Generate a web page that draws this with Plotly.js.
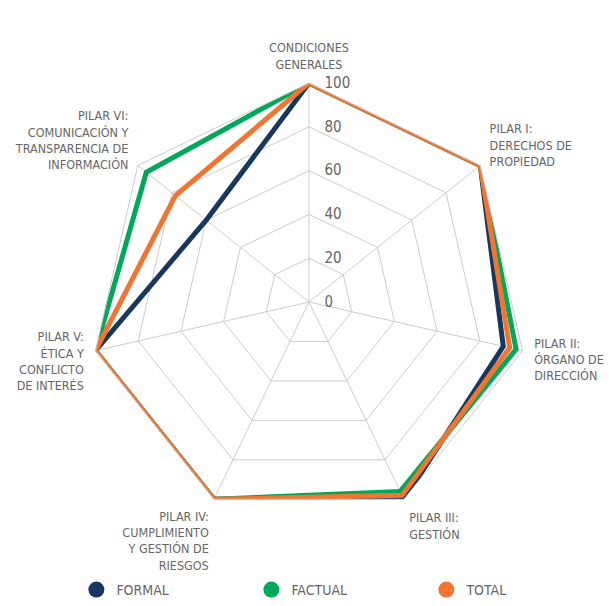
<!DOCTYPE html>
<html>
<head>
<meta charset="utf-8">
<script src="https://cdn.plot.ly/plotly-3.0.1.min.js"></script>
<style>html,body{margin:0;padding:0;background:#fff;}#chart{width:611px;height:606px;}</style>
</head>
<body>
<div id="chart"></div>
<script>
const categories = [
  "CONDICIONES<br>GENERALES",
  "PILAR I:<br>DERECHOS DE<br>PROPIEDAD",
  "PILAR II:<br>ÓRGANO DE<br>DIRECCIÓN",
  "PILAR III:<br>GESTIÓN",
  "PILAR IV:<br>CUMPLIMIENTO<br>Y GESTIÓN DE<br>RIESGOS",
  "PILAR V:<br>ÉTICA Y<br>CONFLICTO<br>DE INTERÉS",
  "PILAR VI:<br>COMUNICACIÓN Y<br>TRANSPARENCIA DE<br>INFORMACIÓN"
];
const formal  = [100, 100, 91, 100, 100, 100, 60];
const factual = [100, 100, 97, 96, 100, 100, 95];
const total   = [100, 100, 94, 98, 100, 100, 78];
const seriesNames = ["FORMAL", "FACTUAL", "TOTAL"];
const colors = ["#163760", "#00A85A", "#F37430"];
const radialTicks = [0, 20, 40, 60, 80, 100];

const FONT = "'DejaVu Sans Condensed', 'Liberation Sans Narrow', 'Roboto', sans-serif";
const seriesData = [formal, factual, total];
const traces = [];
seriesData.forEach((vals, i) => {
  traces.push({
    type: "scatterpolar",
    r: vals.concat([vals[0]]),
    theta: categories.concat([categories[0]]),
    mode: "lines",
    name: seriesNames[i],
    line: {color: colors[i], width: 5},
    showlegend: false,
    hoverinfo: "skip"
  });
});
seriesNames.forEach((n, i) => {
  traces.push({
    type: "scatterpolar",
    r: [null],
    theta: [categories[0]],
    mode: "markers",
    name: n,
    marker: {color: colors[i], size: 28, symbol: "circle"},
    showlegend: true
  });
});

const cx = 309, cy = 302, R = 219, W = 611, H = 606;
const layout = {
  width: W, height: H,
  margin: {l: 0, r: 0, t: 0, b: 0},
  paper_bgcolor: "#fff",
  font: {family: FONT, size: 12.5, color: "#666"},
  showlegend: true,
  legend: {
    orientation: "h",
    x: 0.125, xanchor: "left",
    y: 0.0, yanchor: "bottom",
    entrywidth: 130, entrywidthmode: "pixels",
    font: {family: FONT, size: 14, color: "#666"},
    itemsizing: "trace"
  },
  polar: {
    domain: {x: [(cx - R) / W, (cx + R) / W], y: [(H - cy - R) / H, (H - cy + R) / H]},
    gridshape: "linear",
    bgcolor: "#fff",
    angularaxis: {
      rotation: 90,
      direction: "clockwise",
      type: "category",
      categoryorder: "array",
      categoryarray: categories,
      showline: true,
      linecolor: "#cccccc",
      linewidth: 1,
      gridcolor: "#cccccc",
      gridwidth: 1,
      ticks: "outside",
      ticklen: 9,
      tickcolor: "rgba(0,0,0,0)",
      tickfont: {family: FONT, size: 12.5, color: "#666"}
    },
    radialaxis: {
      range: [0, 100],
      tickvals: radialTicks,
      ticktext: radialTicks.map(String),
      angle: 90,
      tickangle: 90,
      side: "clockwise",
      showline: false,
      gridcolor: "#cccccc",
      gridwidth: 1,
      ticks: "outside",
      ticklen: 12,
      tickcolor: "rgba(0,0,0,0)",
      tickfont: {family: FONT, size: 15, color: "#666"}
    }
  }
};
Plotly.newPlot("chart", traces, layout, {displayModeBar: false, staticPlot: true});
</script>
</body>
</html>
